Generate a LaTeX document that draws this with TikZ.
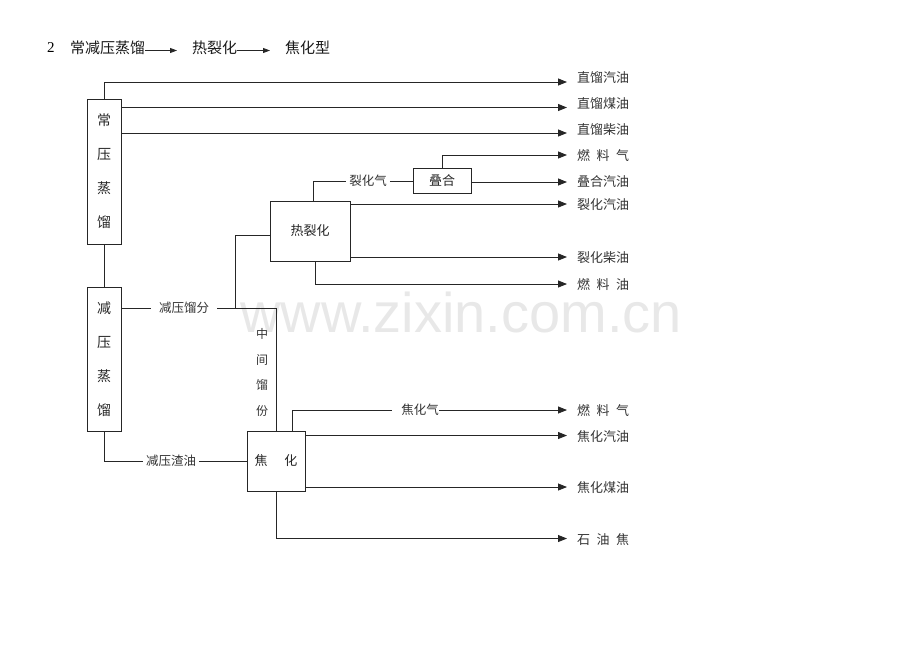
\documentclass[tikz,border=0pt]{standalone}
\usepackage{fontspec}
\setmainfont{Liberation Serif}
\newfontfamily\cjk{Noto Sans CJK SC}
\newfontfamily\wmfont{Liberation Sans}
\usetikzlibrary{arrows.meta}
\begin{document}
\begin{tikzpicture}[x=1pt,y=-1pt,
  ln/.style={line width=0.8pt, draw=black!85},
  arr/.style={ln, -{Triangle[length=9pt,width=7pt]}},
  tarr/.style={ln, -{Triangle[length=7pt,width=5pt]}},
  lab/.style={font=\cjk\fontsize{13}{14}\selectfont, text=black!80, inner sep=0pt, anchor=west},
  mid/.style={font=\cjk\fontsize{12.5}{14}\selectfont, text=black!80, inner ysep=0pt, inner xsep=8pt},
  box/.style={draw=black!85, line width=0.8pt, inner sep=0pt, font=\cjk\fontsize{13}{15}\selectfont, text=black!85},
  col/.style={box, minimum width=34pt, align=center, font=\cjk\fontsize{14}{34}\selectfont},
  ttl/.style={anchor=west, inner sep=0pt, font=\cjk\fontsize{15}{16}\selectfont, text=black!90},
  ]
\path[use as bounding box] (0,0) rectangle (920,651);
% watermark
\node[anchor=base west, inner sep=0pt, font=\wmfont\fontsize{56}{60}\selectfont, text=black!9] (wm) at (240,332) {www.zixin.com.cn};
% title
\node[anchor=west, inner sep=0pt, font=\fontsize{15}{16}\selectfont] (t0) at (47,48) {2};
\node[ttl] (t1) at (70,48) {常减压蒸馏};
\node[ttl] (t2) at (192,48) {热裂化};
\node[ttl] (t3) at (285,48) {焦化型};
\draw[tarr] ([yshift=-2.5pt]t1.east) -- ([xshift=-15pt,yshift=-2.5pt]t2.west);
\draw[tarr] ([yshift=-2.5pt]t2.east) -- ([xshift=-15pt,yshift=-2.5pt]t3.west);
% boxes
\node[col, minimum height=145pt] (A) at (104,171.5) {常\\压\\蒸\\馏};
\node[col, minimum height=144pt] (B) at (104,359) {减\\压\\蒸\\馏};
\node[box, minimum width=80pt, minimum height=60pt] (R) at (310,231) {热裂化};
\node[box, minimum width=58pt, minimum height=25pt] (D) at (442,181) {叠合};
\node[box, minimum width=58pt, minimum height=60pt] (J) at (276,461) {焦\hspace{1.3em}化};
% arrow ends
\coordinate (e1) at (567,82);
\coordinate (e2) at (567,107.5);
\coordinate (e3) at (567,133);
\coordinate (e4) at (567,155);
\coordinate (e5) at (567,182);
\coordinate (e6) at (567,204);
\coordinate (e7) at (567,257);
\coordinate (e8) at (567,284);
\coordinate (e9) at (567,410);
\coordinate (e10) at (567,435.5);
\coordinate (e11) at (567,487);
\coordinate (e12) at (567,538.5);
% right labels
\node[lab] (L1) at ([shift={(10,-4)}]e1) {直馏汽油};
\node[lab] (L2) at ([shift={(10,-4)}]e2) {直馏煤油};
\node[lab] (L3) at ([shift={(10,-3)}]e3) {直馏柴油};
\node[lab] (L4) at ([shift={(10,1)}]e4) {燃\hspace{0.5em}料\hspace{0.5em}气};
\node[lab] (L5) at ([shift={(10,0)}]e5) {叠合汽油};
\node[lab] (L6) at ([shift={(10,1)}]e6) {裂化汽油};
\node[lab] (L7) at ([shift={(10,1)}]e7) {裂化柴油};
\node[lab] (L8) at ([shift={(10,1)}]e8) {燃\hspace{0.5em}料\hspace{0.5em}油};
\node[lab] (L9) at ([shift={(10,1)}]e9) {燃\hspace{0.5em}料\hspace{0.5em}气};
\node[lab] (L10) at ([shift={(10,1)}]e10) {焦化汽油};
\node[lab] (L11) at ([shift={(10,1)}]e11) {焦化煤油};
\node[lab] (L12) at ([shift={(10,1)}]e12) {石\hspace{0.5em}油\hspace{0.5em}焦};
% atmospheric column outputs
\draw[arr] (A.north) |- (e1);
\draw[arr] (A.east |- e2) -- (e2);
\draw[arr] (A.east |- e3) -- (e3);
\draw[ln] (A.south) -- (B.north);
% thermal cracking
\node[mid, inner xsep=3pt] (q1) at (368,181) {裂化气};
\draw[ln] ([xshift=3pt]R.north) |- (q1.west);
\draw[ln] (q1.east) -- (D.west);
\draw[arr] (D.north) |- (e4);
\draw[arr] (D.east |- e5) -- (e5);
\draw[arr] (R.east |- e6) -- (e6);
\draw[arr] (R.east |- e7) -- (e7);
\draw[arr] ([xshift=5pt]R.south) |- (e8);
% vacuum column outputs
\node[mid] (m1) at (184,308) {减压馏分};
\coordinate (j1) at (235,308);
\draw[ln] (B.east |- m1) -- (m1.west);
\draw[ln] (m1.east) -| (J.north);
\draw[ln] (j1) |- ([yshift=-4pt]R.west);
\node[font=\cjk\fontsize{12}{25.5}\selectfont, text=black!80, align=center, inner sep=0pt] (mv) at (262,372.5) {中\\间\\馏\\份};
\node[mid, inner xsep=3pt] (m2) at (171,461) {减压渣油};
\draw[ln] (B.south) |- (m2.west);
\draw[ln] (m2.east) -- (J.west);
% coking outputs
\node[mid, inner xsep=0pt] (q2) at (420,410) {焦化气};
\draw[ln] ([xshift=16pt]J.north) |- ([xshift=-9pt]q2.west);
\draw[arr] (q2.east) -- (e9);
\draw[arr] (J.east |- e10) -- (e10);
\draw[arr] (J.east |- e11) -- (e11);
\draw[arr] (J.south) |- (e12);
\end{tikzpicture}
\end{document}
